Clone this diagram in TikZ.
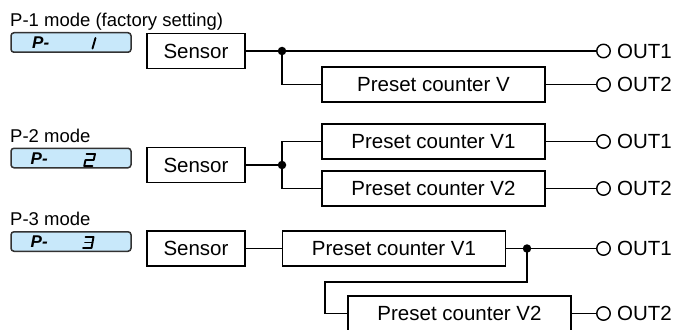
\documentclass[tikz,border=0pt]{standalone}
\usepackage{fontspec}
\setmainfont{Liberation Sans}
\definecolor{lcdblue}{RGB}{200,232,250}
\definecolor{lcdedge}{RGB}{50,50,50}
\begin{document}
\begin{tikzpicture}[x=1pt,y=-1pt,
  blk/.style={draw,line width=1.4pt,minimum height=35pt,inner sep=0pt,font=\fontsize{20.5}{24}\selectfont},
  sensorbox/.style={blk,minimum width=98pt},
  ctrbox/.style={blk,minimum width=223pt},
  conn/.style={line width=1.4pt},
  outc/.style={draw,circle,line width=1.4pt,minimum size=13.5pt,inner sep=0pt},
  outl/.style={anchor=west,inner sep=0pt,font=\fontsize{20.5}{24}\selectfont},
  modelbl/.style={anchor=base west,inner sep=0pt,font=\fontsize{18.5}{22}\selectfont},
  lcd/.style={draw=lcdedge,fill=lcdblue,line width=1.5pt,rounded corners=3pt,minimum width=120pt,minimum height=19.5pt,inner sep=0pt},
  lcdp/.style={anchor=west,inner sep=0pt,font=\fontsize{17}{20}\bfseries\itshape\selectfont},
  seg/.style={line width=1.9pt,line cap=round,line join=round},
  dot/.style={fill,circle,inner sep=0pt,minimum size=8.5pt}
]
\useasboundingbox (0,0) rectangle (674,329);

% ---------- P-1 ----------
\node[modelbl] (m1) at (10,27) {P-1 mode (factory setting)};
\node[lcd] (l1) at (71,42.5) {};
\node[lcdp] (p1) at (32,43) {P-};
\draw[seg] (95.5,38) -- (92.5,48.5);
\node[sensorbox] (s1) at (196,51) {Sensor};
\node[ctrbox] (v1) at (433.5,84.5) {Preset counter V};
\coordinate (j1) at (282,51);
\node[outc] (o11) at (603.5,51) {};
\node[outc] (o12) at (603.5,84.5) {};
\node[outl] (t11) at (617,51) {OUT1};
\node[outl] (t12) at (617,84.5) {OUT2};
\draw[conn] (s1.east) -- (j1) -- (o11.west);
\draw[conn] (j1) |- (v1.west);
\draw[conn] (v1.east) -- (o12.west);
\node[dot] at (j1) {};

% ---------- P-2 ----------
\node[modelbl] (m2) at (10,142) {P-2 mode};
\node[lcd] (l2) at (71,158) {};
\node[lcdp] (p2) at (30.5,158.5) {P-};
\draw[seg] (86.5,154) -- (95,154) -- (93.7,160) -- (85.5,160) -- (84.2,166) -- (92.5,166);
\node[sensorbox] (s2) at (196,165) {Sensor};
\node[ctrbox] (v21) at (433.5,141.5) {Preset counter V1};
\node[ctrbox] (v22) at (433.5,188.5) {Preset counter V2};
\coordinate (j2) at (282,165);
\node[outc] (o21) at (603.5,141.5) {};
\node[outc] (o22) at (603.5,188.5) {};
\node[outl] (t21) at (617,141.5) {OUT1};
\node[outl] (t22) at (617,188.5) {OUT2};
\draw[conn] (s2.east) -- (j2);
\draw[conn] (j2) |- (v21.west);
\draw[conn] (j2) |- (v22.west);
\draw[conn] (v21.east) -- (o21.west);
\draw[conn] (v22.east) -- (o22.west);
\node[dot] at (j2) {};

% ---------- P-3 ----------
\node[modelbl] (m3) at (10,225) {P-3 mode};
\node[lcd] (l3) at (71,241.5) {};
\node[lcdp] (p3) at (30.5,242) {P-};
\draw[seg] (85.5,237) -- (93.5,237) -- (91.5,248) -- (83,248);
\draw[seg] (85,242.5) -- (92.5,242.5);
\node[sensorbox] (s3) at (196,248.5) {Sensor};
\node[ctrbox] (v31) at (394,248.5) {Preset counter V1};
\node[ctrbox] (v32) at (459.5,313.5) {Preset counter V2};
\coordinate (j3) at (527,248.5);
\coordinate (k3) at (325,282);
\node[outc] (o31) at (603.5,248.5) {};
\node[outc] (o32) at (603.5,313.5) {};
\node[outl] (t31) at (617,248.5) {OUT1};
\node[outl] (t32) at (617,313.5) {OUT2};
\draw[conn] (s3.east) -- (v31.west);
\draw[conn] (v31.east) -- (j3) -- (o31.west);
\draw[conn] (j3) |- (k3) |- (v32.west);
\draw[conn] (v32.east) -- (o32.west);
\node[dot] at (j3) {};
\end{tikzpicture}
\end{document}
